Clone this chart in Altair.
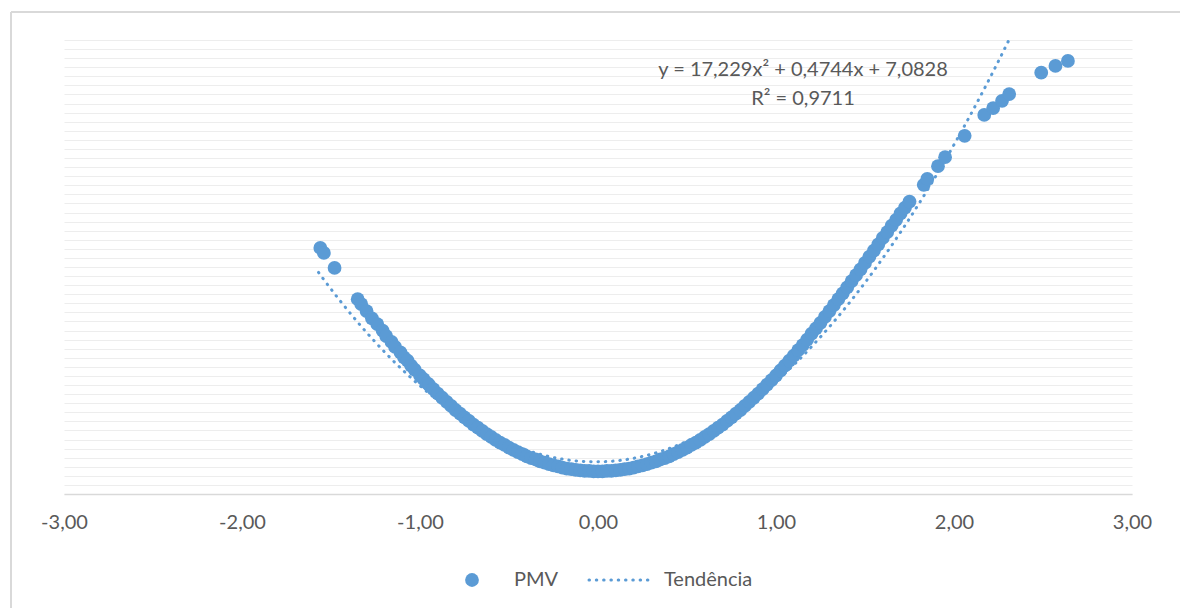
import altair as alt
import pandas as pd

# ---- data ----
pmv = [
    -1.56, -1.54, -1.48, -1.35, -1.33, -1.30, -1.27, -1.24, -1.21, -1.19, -1.16, -1.14,
    -1.11, -1.09, -1.07, -1.05, -1.03, -1.00, -0.98, -0.96,
    -0.95, -0.925, -0.90, -0.875, -0.85, -0.825, -0.80, -0.775, -0.75, -0.725, -0.70,
    -0.675, -0.65, -0.625, -0.60, -0.575, -0.55, -0.525, -0.50, -0.475, -0.45, -0.425,
    -0.40, -0.375, -0.35, -0.325, -0.30, -0.275, -0.25, -0.225, -0.20, -0.175, -0.15,
    -0.125, -0.10, -0.075, -0.05, -0.025, 0.00,
    0.025, 0.05, 0.075, 0.10, 0.125, 0.15, 0.175, 0.20, 0.225, 0.25, 0.275, 0.30, 0.325,
    0.35, 0.375, 0.40, 0.425, 0.45, 0.475, 0.50, 0.525, 0.55, 0.575, 0.60, 0.625, 0.65,
    0.675, 0.70, 0.725, 0.75, 0.775, 0.80,
    0.825, 0.85, 0.875, 0.90, 0.925, 0.95, 0.975, 1.00, 1.025, 1.05, 1.075,
    1.10, 1.125, 1.15, 1.175, 1.20, 1.225, 1.25, 1.275, 1.30, 1.325, 1.35, 1.375, 1.40,
    1.425, 1.45, 1.475, 1.50, 1.525, 1.55, 1.575, 1.60, 1.625, 1.65, 1.675, 1.70, 1.725, 1.75,
    1.83, 1.85, 1.91, 1.95, 2.06, 2.17, 2.22, 2.27, 2.31, 2.49, 2.57, 2.64,
]
ppd = [
    54.2, 53.1, 49.8, 42.9, 41.8, 40.3, 38.7, 37.4, 36.0, 34.8, 33.5, 32.4,
    31.2, 30.1, 29.4, 28.3, 27.4, 26.1, 25.3, 24.4,
    24.1, 23.1, 22.1, 21.2, 20.3, 19.4, 18.5, 17.7, 16.9, 16.1, 15.3,
    14.6, 13.9, 13.2, 12.6, 11.9, 11.3, 10.8, 10.2, 9.7, 9.2, 8.8,
    8.3, 7.9, 7.6, 7.2, 6.9, 6.6, 6.3, 6.1, 5.8, 5.6, 5.5,
    5.3, 5.2, 5.1, 5.1, 5.0, 5.0,
    5.0, 5.1, 5.1, 5.2, 5.3, 5.5, 5.6, 5.8, 6.1, 6.3, 6.6, 6.9, 7.2,
    7.6, 7.9, 8.3, 8.8, 9.2, 9.7, 10.2, 10.8, 11.3, 11.9, 12.6, 13.2, 13.9,
    14.6, 15.3, 16.1, 16.9, 17.7, 18.5,
    19.4, 20.3, 21.2, 22.1, 23.1, 24.1, 25.1, 26.1, 27.2, 28.3, 29.4,
    30.5, 31.7, 32.8, 34.0, 35.3, 36.5, 37.7, 39.0, 40.3, 41.6, 42.9, 44.2, 45.5,
    46.9, 48.2, 49.5, 50.9, 52.3, 53.6, 55.0, 56.4, 57.7, 59.1, 60.4, 61.8, 63.1, 64.4,
    68.1, 69.4, 72.2, 74.2, 78.9, 83.5, 85.0, 86.6, 88.1, 92.8, 94.3, 95.4,
]
assert len(pmv) == len(ppd)

trend_coef = [17.229, 0.4744, 7.0828]      # from the equation shown on the chart
trend_range = [-1.57, 2.308]
x_ticks = [-3, -2, -1, 0, 1, 2, 3]
y_grid = list(range(0, 101, 2))
equation_lines = ["y = 17,229x² + 0,4744x + 7,0828", "R² = 0,9711"]
legend_labels = ["PMV", "Tendência"]

BLUE = "#5B9BD5"
TEXT = "#595959"
FONT = "Lato"
FS = 20
MSIZE = 190

df = pd.DataFrame({"pmv": pmv, "ppd": ppd})

xscale = alt.Scale(domain=[-3, 3], nice=False, zero=False)
yscale = alt.Scale(domain=[0, 100], nice=False, zero=False)

xaxis = alt.Axis(
    values=x_ticks,
    labelExpr="(datum.value < 0 ? '-' : '') + abs(datum.value) + ',00'",
    grid=False, ticks=False, domain=True, domainColor="#d9d9d9", domainWidth=1.5,
    labelPadding=18, labelFontSize=FS, labelColor=TEXT, labelFont=FONT, title=None,
    labelFlush=False,
)
yaxis = alt.Axis(
    values=y_grid, grid=True, gridColor="#ededed", gridWidth=1.2,
    labels=False, ticks=False, domain=False, title=None,
)

a, b, c = trend_coef
trend = (
    alt.Chart(alt.sequence(trend_range[0], trend_range[1] + 0.0005, 0.004, as_="t"))
    .transform_calculate(yv=f"{a}*datum.t*datum.t + {b}*datum.t + {c}")
    .mark_line(color=BLUE, strokeWidth=3, strokeDash=[0.5, 6.8], strokeCap="round", clip=True)
    .encode(x=alt.X("t:Q", scale=xscale, axis=xaxis),
            y=alt.Y("yv:Q", scale=yscale, axis=yaxis))
)

points = (
    alt.Chart(df)
    .mark_circle(color=BLUE, size=MSIZE, opacity=1)
    .encode(x=alt.X("pmv:Q", scale=xscale, axis=xaxis),
            y=alt.Y("ppd:Q", scale=yscale, axis=yaxis))
)

one = pd.DataFrame({"k": [0]})

border_top = alt.Chart(one).mark_rule(color="#d9d9d9", strokeWidth=2).encode(
    x=alt.value(-53), x2=alt.value(1200), y=alt.value(-28))
border_left = alt.Chart(one).mark_rule(color="#d9d9d9", strokeWidth=2).encode(
    x=alt.value(-53), y=alt.value(-28), y2=alt.value(600))

def text_at(s, x, y, align="center"):
    return alt.Chart(pd.DataFrame({"s": [s]})).mark_text(
        font=FONT, fontSize=FS, color=TEXT, align=align, baseline="middle"
    ).encode(text="s:N", x=alt.value(x), y=alt.value(y))

eq1 = text_at(equation_lines[0], 739, 30)
eq2 = text_at(equation_lines[1], 739, 59)

leg_pt = alt.Chart(one).mark_circle(color=BLUE, size=MSIZE, opacity=1).encode(
    x=alt.value(408), y=alt.value(540))
leg_t1 = text_at(legend_labels[0], 450, 540, align="left")
leg_line = alt.Chart(one).mark_rule(color=BLUE, strokeWidth=3, strokeDash=[0.5, 6.8],
                                    strokeCap="round").encode(
    x=alt.value(525), x2=alt.value(589), y=alt.value(540))
leg_t2 = text_at(legend_labels[1], 600, 540, align="left")

chart = (
    alt.layer(border_top, border_left, trend, points, eq1, eq2, leg_pt, leg_t1, leg_line, leg_t2)
    .properties(
        width=1068, height=454,
        padding={"left": 64, "top": 40, "right": 48, "bottom": 114},
        autosize=alt.AutoSizeParams(type="none"),
        background="white",
    )
    .configure_view(stroke=None)
)

chart.save("out.html", embed_options={"renderer": "svg", "actions": False})
